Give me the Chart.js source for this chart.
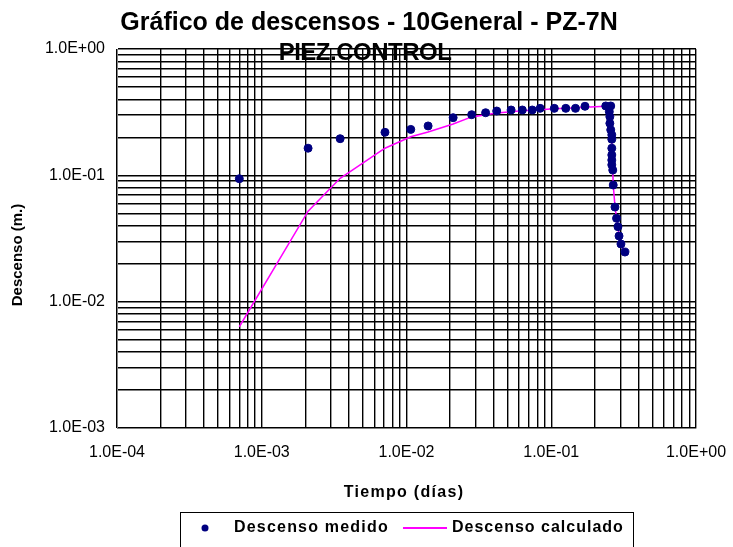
<!DOCTYPE html>
<html>
<head>
<meta charset="utf-8">
<script src="https://cdn.jsdelivr.net/npm/chart.js@4.4.1/dist/chart.umd.min.js"></script>
<style>
  html, body { margin: 0; padding: 0; background: #fff; }
  #wrap { width: 733px; height: 547px; }
</style>
</head>
<body>
<div id="wrap"><canvas id="chart" width="733" height="547"></canvas></div>
<script>
const FONT = '"Liberation Sans", Arial, sans-serif';

// mediciones (dias, m)
const tiempoMedido = [0.0007, 0.00209, 0.00348, 0.0071, 0.0107, 0.0141, 0.021, 0.0282, 0.0352, 0.042,
  0.0528, 0.0631, 0.0739, 0.0838, 0.105, 0.126, 0.147, 0.171, 0.238, 0.2576,
  0.2518, 0.254, 0.254, 0.2576, 0.262, 0.262, 0.262, 0.262, 0.262, 0.262,
  0.266, 0.268, 0.2755, 0.2825, 0.289, 0.294, 0.303, 0.323];
const descensoMedido = [0.094, 0.164, 0.195, 0.219, 0.231, 0.246, 0.286, 0.302, 0.313, 0.323,
  0.329, 0.329, 0.329, 0.339, 0.339, 0.339, 0.339, 0.352, 0.354, 0.354,
  0.319, 0.291, 0.258, 0.229, 0.209, 0.193, 0.164, 0.145, 0.132, 0.121,
  0.110, 0.0838, 0.0561, 0.0457, 0.0392, 0.0331, 0.0286, 0.0247];

// modelo
const tiempoCalculado = [0.0007, 0.00209, 0.00348, 0.0071, 0.0107, 0.0141, 0.021, 0.0282, 0.0352, 0.042,
  0.0528, 0.0631, 0.0739, 0.0838, 0.105, 0.126, 0.147, 0.171, 0.238, 0.2576,
  0.262, 0.266, 0.268, 0.2755, 0.2825, 0.289, 0.294, 0.303, 0.323];
const descensoCalculado = [0.00633, 0.0521, 0.0947, 0.164, 0.202, 0.220, 0.255, 0.290, 0.302, 0.312,
  0.319, 0.324, 0.328, 0.331, 0.336, 0.340, 0.343, 0.346, 0.352, 0.34,
  0.20, 0.11, 0.084, 0.057, 0.046, 0.039, 0.033, 0.0285, 0.0245];

const xRange = [1e-4, 1];
const yRange = [1e-3, 1];

const titulo = 'Gráfico de descensos - 10General - PZ-7N';
const subtitulo = 'PIEZ.CONTROL';
const tituloX = 'Tiempo (días)';
const tituloY = 'Descenso (m.)';
const nombres = ['Descenso medido', 'Descenso calculado'];
const colores = ['#000080', '#FF00FF'];

function logTicks(min, max) {
  const out = [];
  for (let e = Math.round(Math.log10(min)); e < Math.round(Math.log10(max)); e++) {
    for (let m = 1; m <= 9; m++) out.push({ value: m * Math.pow(10, e) });
  }
  out.push({ value: max });
  return out;
}

function sci(v) {
  const l = Math.log10(v);
  const e = Math.round(l);
  if (Math.abs(l - e) > 1e-6) return '';
  return '1.0E' + (e < 0 ? '-' : '+') + String(Math.abs(e)).padStart(2, '0');
}

function pts(xs, ys) {
  return xs.map((x, i) => ({ x: x, y: ys[i] }));
}

// el area del grafico la fija layout.padding, no los rotulos
function sinPadding(s) {
  s.paddingLeft = 0;
  s.paddingRight = 0;
  s.paddingTop = 0;
  s.paddingBottom = 0;
}

const textos = {
  id: 'textos',
  afterDraw(chart) {
    const ctx = chart.ctx;
    ctx.save();
    ctx.fillStyle = '#000';
    ctx.textBaseline = 'middle';
    ctx.textAlign = 'center';

    ctx.font = 'bold 25px ' + FONT;
    ctx.fillText(titulo, 369, 23);
    ctx.font = 'bold 24px ' + FONT;
    ctx.letterSpacing = '-0.5px';
    ctx.fillText(subtitulo, 365, 53);

    ctx.font = 'bold 16px ' + FONT;
    ctx.letterSpacing = '1.3px';
    ctx.fillText(tituloX, 404, 493);
    ctx.font = 'bold 15px ' + FONT;
    ctx.letterSpacing = '0px';
    ctx.save();
    ctx.translate(18, 255);
    ctx.rotate(-Math.PI / 2);
    ctx.fillText(tituloY, 0, 0);
    ctx.restore();

    // leyenda
    ctx.strokeStyle = '#000';
    ctx.lineWidth = 1;
    ctx.strokeRect(180.5, 512.5, 453, 40);
    ctx.fillStyle = colores[0];
    ctx.beginPath();
    ctx.arc(205, 528, 3.5, 0, Math.PI * 2);
    ctx.fill();
    ctx.strokeStyle = colores[1];
    ctx.lineWidth = 2;
    ctx.beginPath();
    ctx.moveTo(403, 528);
    ctx.lineTo(447, 528);
    ctx.stroke();
    ctx.fillStyle = '#000';
    ctx.textAlign = 'left';
    ctx.font = 'bold 16px ' + FONT;
    ctx.letterSpacing = '1.2px';
    ctx.fillText(nombres[0], 234, 528);
    ctx.letterSpacing = '1px';
    ctx.fillText(nombres[1], 452, 528);
    ctx.restore();
  }
};

const ejeComun = {
  type: 'logarithmic',
  grid: { color: '#000', lineWidth: 1.4, drawTicks: false },
  border: { color: '#808080', width: 1 },
  ticks: {
    color: '#000',
    font: { family: FONT, size: 16 },
    autoSkip: false,
    maxRotation: 0,
    callback: (v) => sci(v)
  }
};

new Chart(document.getElementById('chart'), {
  type: 'scatter',
  data: {
    datasets: [
      {
        label: nombres[0],
        data: pts(tiempoMedido, descensoMedido),
        backgroundColor: colores[0],
        borderColor: colores[0],
        pointRadius: 4,
        pointHoverRadius: 4,
        showLine: false
      },
      {
        label: nombres[1],
        data: pts(tiempoCalculado, descensoCalculado),
        borderColor: colores[1],
        backgroundColor: colores[1],
        borderWidth: 1.5,
        pointRadius: 0,
        showLine: true,
        tension: 0
      }
    ]
  },
  options: {
    responsive: false,
    animation: false,
    devicePixelRatio: 1,
    layout: { padding: { left: 0, top: 49, right: 37, bottom: 0 } },
    plugins: { legend: { display: false }, title: { display: false }, tooltip: { enabled: false } },
    scales: {
      x: {
        ...ejeComun,
        min: xRange[0], max: xRange[1],
        ticks: { ...ejeComun.ticks, padding: 15 },
        afterBuildTicks: (s) => { s.ticks = logTicks(xRange[0], xRange[1]); },
        afterFit: (s) => { s.height = 119; sinPadding(s); }
      },
      y: {
        ...ejeComun,
        min: yRange[0], max: yRange[1],
        ticks: { ...ejeComun.ticks, padding: 12 },
        afterBuildTicks: (s) => { s.ticks = logTicks(yRange[0], yRange[1]); },
        afterFit: (s) => { s.width = 117; sinPadding(s); }
      }
    }
  },
  plugins: [textos]
});
</script>
</body>
</html>
